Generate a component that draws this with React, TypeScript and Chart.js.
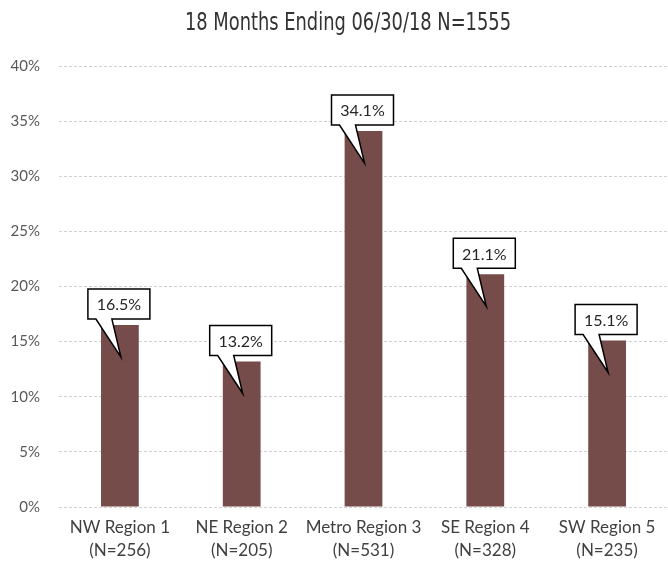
import React, { useEffect, useRef } from "react";
import { Chart, registerables } from "chart.js";

Chart.register(...registerables);

const regionNames = ["NW Region 1", "NE Region 2", "Metro Region 3", "SE Region 4", "SW Region 5"];
const regionCounts = ["(N=256)", "(N=205)", "(N=531)", "(N=328)", "(N=235)"];
const shares = [16.5, 13.2, 34.1, 21.1, 15.1];
const titleText = "18 Months Ending 06/30/18 N=1555";

const BAR_COLOR = "#764C4A";
const LABEL_FONT = "Lato, 'Open Sans', sans-serif";

const titlePlugin = {
  id: "customTitle",
  afterDraw(chart: any) {
    const ctx = chart.ctx;
    ctx.save();
    ctx.font = "25px 'Liberation Sans Narrow', 'DejaVu Sans Condensed', sans-serif";
    ctx.fillStyle = "#333333";
    ctx.textAlign = "center";
    ctx.textBaseline = "middle";
    ctx.fillText(titleText, 348, 23, 326);
    ctx.restore();
  },
};

const calloutPlugin = {
  id: "callouts",
  afterDatasetsDraw(chart: any) {
    const ctx = chart.ctx;
    const meta = chart.getDatasetMeta(0);
    const data = chart.data.datasets[0].data as number[];
    meta.data.forEach((bar: any, i: number) => {
      const w = 62;
      const h = 30;
      const cx = bar.x - 1;
      const bx0 = cx - w / 2;
      const bx1 = cx + w / 2;
      const by1 = bar.y - 6;
      const by0 = by1 - h;
      const tx0 = bx0 + 8;
      const tx1 = bx0 + 24;
      const tipX = bar.x + 1;
      const tipY = bar.y + 32;
      ctx.save();
      ctx.beginPath();
      ctx.moveTo(bx0, by0);
      ctx.lineTo(bx1, by0);
      ctx.lineTo(bx1, by1);
      ctx.lineTo(tx1, by1);
      ctx.lineTo(tipX, tipY);
      ctx.lineTo(tx0, by1);
      ctx.lineTo(bx0, by1);
      ctx.closePath();
      ctx.fillStyle = "#ffffff";
      ctx.fill();
      ctx.lineWidth = 1.5;
      ctx.strokeStyle = "#000000";
      ctx.lineJoin = "miter";
      ctx.stroke();
      ctx.font = "16px " + LABEL_FONT;
      ctx.fillStyle = "#262626";
      ctx.textAlign = "center";
      ctx.textBaseline = "middle";
      ctx.fillText(data[i].toFixed(1) + "%", cx, (by0 + by1) / 2 + 1);
      ctx.restore();
    });
  },
};

export default function App() {
  const ref = useRef<HTMLCanvasElement | null>(null);
  useEffect(() => {
    if (!ref.current) return;
    const chart = new Chart(ref.current, {
      type: "bar",
      data: {
        labels: regionNames.map((n, i) => [n, regionCounts[i]]),
        datasets: [
          {
            data: shares,
            backgroundColor: BAR_COLOR,
            borderWidth: 0,
            categoryPercentage: 1,
            barPercentage: 0.31,
          },
        ],
      },
      options: {
        animation: false,
        responsive: false,
        layout: { padding: { top: 66, left: 0, right: 0, bottom: 0 } },
        plugins: {
          legend: { display: false },
          title: { display: false },
          tooltip: { enabled: false },
        },
        scales: {
          x: {
            grid: { display: false },
            border: { display: false },
            ticks: {
              color: "#404040",
              font: { family: LABEL_FONT, size: 17, lineHeight: 1.35 },
              padding: 1,
              maxRotation: 0,
            },
            afterFit(scale: any) {
              scale.height = 58;
            },
          },
          y: {
            min: 0,
            max: 40,
            grid: {
              color: "#D0D0D0",
              drawTicks: false,
              tickLength: 0,
            },
            border: { display: false, dash: [3, 2] },
            ticks: {
              stepSize: 5,
              padding: 19,
              color: "#595959",
              font: { family: LABEL_FONT, size: 15 },
              callback: (v: any) => v + "%",
            },
            afterFit(scale: any) {
              scale.width = 59;
            },
          },
        },
      },
      plugins: [titlePlugin, calloutPlugin],
    });
    return () => chart.destroy();
  }, []);
  return (
    <div style={{ position: "absolute", left: 0, top: 0, width: 668, height: 565, background: "#fff" }}>
      <canvas ref={ref} width={668} height={565} style={{ display: "block" }} />
    </div>
  );
}
